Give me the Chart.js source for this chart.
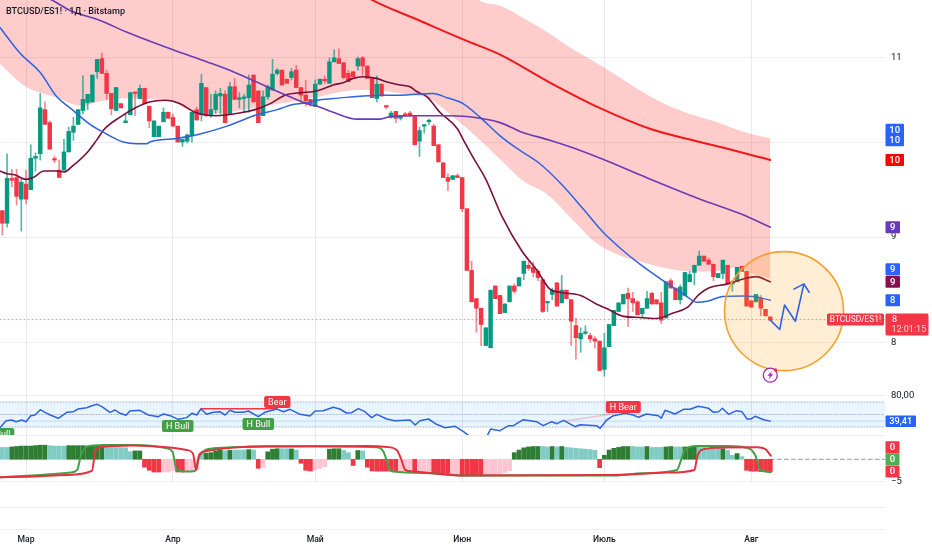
<!DOCTYPE html>
<html><head><meta charset="utf-8">
<style>html,body{margin:0;padding:0;background:#fff}#w{width:932px;height:550px;position:relative}</style>
<script src="https://cdn.jsdelivr.net/npm/chart.js@4/dist/chart.umd.min.js"></script>
</head><body><div id="w"><canvas id="c"></canvas></div>
<script>
const title='BTCUSD/ES1! · 1Д · Bitstamp';
const monthDays=[0,31,61,92,122,153];
const monthNames=['Мар','Апр','Май','Июн','Июль','Авг'];
const priceTicks=[8,9,10,11];
const opens=[9.27,9.14,9.61,9.62,9.39,9.55,9.49,9.83,9.88,10.38,10.23,9.82,9.70,9.70,9.90,10.12,10.21,10.37,10.46,10.47,10.83,10.99,10.81,10.57,10.37,10.45,10.23,10.32,10.58,10.51,10.63,10.42,10.07,10.07,10.24,10.35,10.29,10.19,10.01,10.02,10.08,10.38,10.32,10.64,10.32,10.38,10.54,10.56,10.33,10.65,10.50,10.51,10.52,10.79,10.60,10.31,10.53,10.61,10.81,10.85,10.74,10.76,10.85,10.64,10.55,10.50,10.42,10.68,10.74,10.69,10.95,10.99,10.94,10.81,10.83,10.90,11.00,10.90,10.75,10.51,10.68,10.42,10.29,10.36,10.28,10.33,10.34,10.30,10.02,10.19,10.24,10.19,9.98,9.78,9.62,9.60,9.64,9.62,9.29,8.67,8.40,8.31,7.97,7.95,8.52,8.43,8.27,8.37,8.52,8.52,8.64,8.72,8.70,8.66,8.58,8.36,8.44,8.55,8.36,8.48,8.39,8.15,8.03,8.08,8.06,8.03,8.01,7.76,7.96,8.15,8.28,8.35,8.45,8.40,8.37,8.26,8.31,8.45,8.39,8.36,8.22,8.57,8.50,8.39,8.43,8.56,8.65,8.72,8.81,8.77,8.73,8.60,8.64,8.72,8.54,8.56,8.71,8.66,8.38,8.37,8.40,8.30,8.23];
const highs=[9.27,9.88,9.71,9.71,9.60,9.70,9.98,9.89,10.57,10.47,10.25,9.85,9.81,10.04,10.18,10.29,10.38,10.78,10.56,10.79,10.98,11.06,10.85,10.57,10.64,10.45,10.33,10.58,10.58,10.67,10.63,10.42,10.25,10.19,10.40,10.35,10.33,10.19,10.04,10.10,10.35,10.41,10.80,10.64,10.56,10.60,10.63,10.60,10.70,10.75,10.58,10.56,10.79,10.79,10.60,10.60,10.67,10.98,10.87,10.85,10.74,10.87,10.91,10.64,10.73,10.50,10.73,10.74,10.78,11.00,11.10,11.11,10.94,10.85,10.83,11.01,11.02,10.90,10.76,10.78,10.68,10.43,10.36,10.36,10.31,10.35,10.36,10.30,10.18,10.21,10.27,10.21,9.98,9.78,9.66,9.64,9.66,9.62,9.29,8.76,8.40,8.31,8.13,8.48,8.52,8.43,8.35,8.52,8.54,8.60,8.76,8.76,8.75,8.68,8.58,8.37,8.50,8.55,8.62,8.48,8.39,8.22,8.13,8.15,8.08,8.05,8.01,8.08,8.16,8.29,8.36,8.44,8.50,8.46,8.38,8.31,8.47,8.46,8.39,8.46,8.56,8.59,8.50,8.53,8.65,8.66,8.72,8.86,8.81,8.79,8.73,8.64,8.77,8.72,8.57,8.70,8.71,8.66,8.38,8.44,8.43,8.30,8.23];
const lows=[9.02,9.10,9.52,9.33,9.06,9.34,9.49,9.69,9.81,10.21,9.93,9.78,9.62,9.70,9.90,10.03,10.21,10.33,10.38,10.47,10.75,10.81,10.50,10.32,10.37,10.40,10.23,10.32,10.31,10.51,10.45,10.17,10.07,10.07,10.24,10.28,10.19,10.01,9.96,10.00,10.01,10.26,10.25,10.30,10.29,10.33,10.33,10.23,10.33,10.50,10.40,10.35,10.35,10.47,10.23,10.31,10.50,10.61,10.79,10.67,10.69,10.73,10.64,10.46,10.42,10.42,10.42,10.68,10.69,10.69,10.95,10.93,10.74,10.71,10.77,10.85,10.79,10.75,10.52,10.47,10.54,10.39,10.28,10.23,10.26,10.30,10.30,9.98,9.85,10.11,10.21,9.97,9.79,9.62,9.48,9.60,9.62,9.26,8.67,8.37,8.09,7.97,7.97,7.95,8.40,8.26,8.27,8.37,8.45,8.52,8.58,8.67,8.61,8.57,8.27,8.28,8.39,8.33,8.36,8.40,7.97,7.85,7.91,8.07,8.00,7.95,7.75,7.70,7.96,8.15,8.28,8.35,8.14,8.28,8.25,8.22,8.31,8.35,8.35,8.17,8.22,8.50,8.39,8.35,8.43,8.56,8.53,8.72,8.76,8.73,8.57,8.60,8.59,8.54,8.47,8.56,8.66,8.33,8.32,8.37,8.24,8.24,8.20];
const closes=[9.14,9.61,9.59,9.42,9.57,9.39,9.83,9.85,10.40,10.21,9.93,9.81,9.62,9.90,10.13,10.19,10.38,10.50,10.56,10.79,10.98,10.81,10.57,10.39,10.64,10.40,10.25,10.58,10.57,10.63,10.45,10.25,10.25,10.19,10.35,10.28,10.19,10.01,10.04,10.09,10.35,10.26,10.69,10.32,10.38,10.56,10.57,10.23,10.65,10.50,10.52,10.53,10.67,10.47,10.23,10.53,10.65,10.80,10.85,10.67,10.69,10.83,10.64,10.55,10.48,10.45,10.68,10.74,10.72,10.95,11.00,10.93,10.76,10.71,10.77,10.99,10.90,10.75,10.52,10.68,10.54,10.41,10.34,10.28,10.31,10.31,10.31,9.98,10.14,10.20,10.25,9.97,9.79,9.62,9.58,9.64,9.62,9.29,8.67,8.37,8.31,8.16,8.13,8.48,8.40,8.26,8.35,8.52,8.47,8.60,8.76,8.69,8.65,8.60,8.28,8.37,8.48,8.33,8.48,8.40,8.19,8.04,8.08,8.08,8.03,8.01,7.75,7.95,8.16,8.29,8.36,8.44,8.40,8.36,8.25,8.31,8.40,8.35,8.35,8.20,8.56,8.50,8.39,8.51,8.65,8.63,8.72,8.81,8.76,8.73,8.61,8.64,8.77,8.54,8.56,8.70,8.66,8.33,8.32,8.44,8.31,8.24,8.20];
const maroonDays=[-5.5,-4,-2.4,0,1.5,3.8,6.7,8,9.7,13,15,16.6,20,23,26,29.3,32.5,35.6,40,45,48.3,51.5,54.6,58,60.5,62,64.8,67,69,71,74,76,79,81,82.5,84.6,87.3,91,92.2,94.3,97,100.4,104.6,107.8,110.5,112.6,117,120.5,122.6,126,129.5,133,136.5,139.4,142,144,148,151.5,154,157];
const maroonVals=[9.69,9.66,9.65,9.60,9.62,9.69,9.69,9.68,9.74,9.90,10.04,10.16,10.30,10.40,10.47,10.49,10.45,10.35,10.31,10.34,10.38,10.45,10.55,10.58,10.59,10.61,10.67,10.70,10.75,10.77,10.75,10.71,10.67,10.65,10.59,10.53,10.35,10.16,10.04,9.84,9.60,9.21,8.86,8.67,8.49,8.46,8.43,8.345,8.305,8.235,8.225,8.215,8.265,8.315,8.44,8.50,8.54,8.59,8.61,8.56];
const blueDays=[-5.5,-1.3,3,6.5,9.3,13.5,17,20.5,23.4,25.5,26.1,31.8,36.7,42.4,48.7,53,56.3,59.5,61.4,64.8,69,71.1,75.3,78.9,85.9,88.8,92.2,95.8,100,103.8,108.4,113.3,117.5,121.7,125.3,129.5,134.4,139.4,141.5,143.7,147,151.3,153.4,157];
const blueVals=[11.38,11.06,10.82,10.53,10.40,10.21,10.10,10.01,9.99,9.99,10.01,10.05,10.10,10.19,10.32,10.38,10.44,10.46,10.49,10.51,10.53,10.54,10.55,10.55,10.57,10.52,10.45,10.29,10.08,9.93,9.77,9.53,9.29,9.05,8.89,8.73,8.57,8.42,8.365,8.375,8.42,8.425,8.42,8.385];
const purpleDays=[-6,5.3,9.3,15.6,21.3,31,38.2,43.7,50.8,55.7,59.8,61.4,64.8,69.8,74.7,76.8,81.7,88.8,93,100,104.2,110.5,116.2,122.6,130.4,142.2,150.6,157];
const purpleVals=[12.0,11.74,11.60,11.47,11.32,11.10,10.95,10.83,10.65,10.53,10.44,10.42,10.35,10.27,10.27,10.30,10.31,10.31,10.30,10.23,10.13,10.03,9.93,9.80,9.63,9.39,9.24,9.10];
const redDays=[68,72.9,83,92.6,100,110.5,121,131.6,142.2,150.6,157];
const redVals=[11.94,11.74,11.47,11.22,11.04,10.70,10.40,10.16,10.01,9.90,9.81];
const bandDays=[-6,0,6,12,15,20,30,35,40,50,60,70,73,80,85,90,95,100,105,110,115,120,125,130,135,140,145,150,153,157];
const bandLow=[10.95,10.65,10.53,10.42,10.47,10.51,10.49,10.36,10.34,10.42,10.51,10.61,10.61,10.56,10.51,10.30,10.07,9.82,9.58,9.44,9.19,8.95,8.82,8.75,8.69,8.66,8.66,8.70,8.64,8.59];
const bandHigh=[12.3,12.3,12.3,12.3,12.3,12.3,12.3,12.3,12.3,12.3,12.3,12.3,12.3,12.3,12.3,12.3,11.76,11.66,11.50,11.32,11.12,10.95,10.77,10.59,10.44,10.33,10.25,10.15,10.10,10.05];
const sketchDays=[157,159,160,162.3,164.1,162,164.1,165.2];
const sketchVals=[8.20,8.115,8.34,8.19,8.54,8.49,8.54,8.46];
const circleDay=[159.9], circlePrice=[8.283];
const lastPrice=8.205;
const priceTags=[['10',10.15,'#2962ff'],['10',10.03,'#2962ff'],['10',9.81,'#ff0000'],['9',9.10,'#673ab7'],['9',8.68,'#2962ff'],['9',8.56,'#880e4f'],['8',8.385,'#2962ff']];
const rsiDays=[-5.5,-4.2,-3,-2.1,-0.9,0,1,1.9,3,4,5.1,6.8,8.6,10,11,12.8,13.9,15,16,17.7,18.8,19.8,21.1,21.9,24,25.8,27.9,29,30.4,32.1,33.9,35,36,36.9,38.1,39.5,40.9,42,43,44.1,45.9,46.9,49,50.4,52.9,54.3,55.7,57.8,59.9,61,62.7,64.8,66.2,67.6,68.7,70.1,71.5,72.9,74,76.1,77.8,81,82.1,83.1,84.9,86.6,88.4,90.5,92.3,93.7,95.1,96.1,97.2,98,100,101.8,102.8,104.9,107.7,109.1,110.9,112,113.4,115.8,116.9,120.4,121.1,122.5,123.9,126.4,128.1,129.2,130.9,133.4,134,134.8,136.9,138.7,140.1,141.8,144,145,146.1,146.9,148.2,149.9,151,152.1,152.9,153.8,155.6,157];
const rsiVals=[29,40,41.2,38.5,41.2,38.5,48.1,49.2,57.7,53.5,49.2,43.9,53.5,54.5,58.8,60.9,64.1,66.3,62.5,53.5,57.2,51.9,48.7,55.6,56.7,49.2,46.5,50.8,48.1,42.3,45,51.9,49.2,58.8,50.3,53.5,54.5,49.2,56.7,53.5,53.5,55.6,46.5,53.5,58.8,54.5,58.3,50.3,47.6,55.6,56.1,61.5,58.8,52.4,52.9,59.3,54.5,45,50.3,42.8,40.1,41.2,33.2,40.1,42.8,34.3,28.9,31.1,22.5,14.5,6.5,5.5,14.5,26.8,24.1,32.1,32.1,41.7,38.5,32.1,38.5,35.3,40.7,30.5,33.7,32.1,27.9,41.2,48.1,51.9,49.2,45.5,50.8,48.1,43.9,56.7,50.8,58.3,58.3,63.1,59.9,53.5,54.5,59.9,50.3,56.1,54.5,42.8,42.8,47.1,41.7,39.41];
const rsiLast=39.41, rsiTop=70, rsiMid=50, rsiBottom=30;
const bearLineDays=[36.9,52.9], bearLineVals=[59.3,59.3];
const hBearLineDays=[114,123], hBearLineVals=[40,50];
const signals=[['H Bull',-5.8,18.8,'#43a047'],['H Bull',32,31.6,'#43a047'],['H Bull',49,34.8,'#43a047'],['Bear',53,70,'#f23645'],['H Bear',126,62,'#f23645']];
const histVals=[2.7,2.7,2.8,2.9,3.0,3.0,3.0,3.1,3.2,3.2,3.1,3.0,3.0,3.0,3.1,3.1,3.1,3.1,3.0,3.0,3.0,2.9,2.65,2.65,2.65,2.65,2.6,1.75,1.9,1.9,-1.8,-2.5,-2.9,-2.9,-2.9,-2.9,-2.6,-2.9,-2.9,-2.6,-2.6,-2.4,1.4,1.4,1.5,1.9,2.05,1.9,2.05,2.1,2.1,2.1,2.2,2.1,-2.05,-1.8,1.7,2.3,2.4,2.4,2.4,2.35,2.1,-0.9,-2.5,-2.65,-2.4,-2.1,-1.7,2.3,2.4,2.4,2.0,1.5,-1.4,2.0,1.9,-1.8,-2.65,-2.7,-2.7,-2.7,-2.7,-2.7,-2.7,-2.7,-2.7,-2.7,-3.0,-3.0,-3.0,-3.2,-3.2,-3.2,-3.2,-3.3,-3.3,-3.5,-3.5,-3.5,-3.5,-3.5,-3.5,-3.5,-3.3,-3.2,-3.0,-2.6,1.5,2.1,2.6,2.8,2.9,2.9,2.9,2.8,2.9,2.8,2.9,2.7,2.6,2.5,2.4,2.3,2.2,2.05,-1.9,0.9,2.1,2.5,2.7,2.9,2.9,2.9,2.8,2.8,2.9,2.7,2.7,2.7,2.8,2.9,2.8,2.8,2.8,2.8,2.8,2.7,2.7,2.5,2.5,2.5,2.4,2.0,0.9,1.3,0.6,-2.5,-2.7,-2.7,-2.8,-2.8,-2.8];
const histKinds='TTDDDDDDDDTTTTDDDDDDDDTTTTTTDDRRRRPPPRRPPPTDDDDTDTTTDTRPDDDTTDTRRRPPPDDDTTRDTRRRRRRRPPPRPPPRRRRPPRRRRRPPPPPPDDDDDDTTDTDTTTTTTTRDDDDDDTTTDTTTDDTTDDDTTTTTDTTDTRRRRRR';
const waveRedDays=[-5.5,1.5,8.6,13.9,14.6,15.6,22.6,29.7,33.9,35.2,35.9,36.5,38.1,43.7,50.8,59.9,71.9,76.1,78.2,79.2,80,81.7,93,123.2,128.1,135.2,141,141.6,142.5,145.7,154.2,155.9,157.1];
const waveRedVals=[-4.09,-3.94,-3.56,-2.65,1.74,2.73,3.11,2.73,2.12,1.36,-2.42,0.98,1.89,2.65,2.95,2.95,3.03,2.8,2.12,-0.15,-2.42,-2.8,-3.71,-3.56,-3.41,-3.03,-2.42,0.61,2.12,2.65,2.73,2.35,0.83];
const waveGreenDays=[-5.5,3,9.3,10.8,11.6,12.8,16.3,22.6,29.7,30.9,31.8,33.9,35.6,36.7,39.5,50.8,59.9,74,75.4,76.8,77.5,85.9,93,123.2,130.2,137.3,138.2,139,141.5,147.8,152.4,153.8,154.9,157.1];
const waveGreenVals=[-4.09,-3.56,-3.03,-2.42,0.98,2.88,3.26,3.26,2.5,1.74,-2.42,-2.8,-2.65,0.98,2.5,2.88,2.95,2.73,1.74,-2.42,-2.8,-3.18,-3.71,-3.71,-3.18,-2.42,-0.15,2.12,3.03,3.03,2.5,0.98,-2.42,-2.95];
const waveTags=[0,0,0];

const pts=(xs,ys)=>xs.map((x,i)=>({x,y:ys[i]}));
const candleDays=opens.map((_,i)=>i-5);
const UP='#089981',DOWN='#f23645';
const candleColor=i=>closes[i]>=opens[i]?UP:DOWN;
const wickColor=i=>closes[i]>=opens[i]?'rgba(8,153,129,.7)':'rgba(242,54,69,.6)';
const histColors={D:'#2e7d32',T:'#80cbc4',R:'#f23645',P:'#ffc4d2'};
const XMIN=-5.49,XMAX=181.2;
const line=(xs,ys,color,width,extra)=>Object.assign({type:'line',data:pts(xs,ys),borderColor:color,borderWidth:width,pointRadius:0,cubicInterpolationMode:'monotone',yAxisID:'yP',backgroundColor:'transparent',fill:false},extra||{});
const flat=(v,color,width,dash,yAxisID,extra)=>Object.assign({type:'line',data:[{x:XMIN,y:v},{x:XMAX,y:v}],borderColor:color,borderWidth:width,borderDash:dash,pointRadius:0,yAxisID,backgroundColor:'transparent',fill:false},extra||{});

const datasets=[
 {type:'line',label:'bandHigh',data:pts(bandDays,bandHigh),borderWidth:0,pointRadius:0,yAxisID:'yP',fill:'+1',backgroundColor:'rgba(255,0,0,.2)',order:20,cubicInterpolationMode:'monotone'},
 {type:'line',label:'bandLow',data:pts(bandDays,bandLow),borderWidth:0,pointRadius:0,yAxisID:'yP',fill:false,order:20,cubicInterpolationMode:'monotone'},
 flat(lastPrice,'rgba(242,54,69,.55)',1,[1,3],'yP',{order:15}),
 {type:'bar',label:'wicks',grouped:false,yAxisID:'yP',barThickness:1,order:12,minBarLength:1,
  data:candleDays.map((d,i)=>({x:d,y:[lows[i],highs[i]]})),backgroundColor:candleDays.map((_,i)=>wickColor(i))},
 {type:'bar',label:'bodies',grouped:false,yAxisID:'yP',barThickness:3.8,order:11,minBarLength:1.5,
  data:candleDays.map((d,i)=>({x:d,y:[opens[i],closes[i]]})),backgroundColor:candleDays.map((_,i)=>candleColor(i))},
 line(maroonDays,maroonVals,'#7b0f3c',1.6,{order:9}),
 line(blueDays,blueVals,'#2f62e0',1.5,{order:8}),
 line(purpleDays,purpleVals,'#6a3bb5',1.6,{order:7}),
 line(redDays,redVals,'#f01818',2,{order:6}),
 {type:'bubble',label:'circle',data:[{x:circleDay[0],y:circlePrice[0],r:59.5}],yAxisID:'yP',backgroundColor:'rgba(255,152,0,.17)',borderColor:'#f5a030',borderWidth:1.6,order:4,clip:false},
 {type:'line',label:'sketch',data:pts(sketchDays,sketchVals),borderColor:'#2f62e0',borderWidth:1.6,pointRadius:0,yAxisID:'yP',tension:0,order:3,fill:false,clip:false},
 flat(rsiTop,'#a9b4c6',1,[1,2],'yR',{order:30,fill:{target:{value:rsiBottom}},backgroundColor:'rgba(33,150,243,.1)'}),
 flat(rsiMid,'#a9b4c6',1,[1,2],'yR',{order:29}),
 flat(rsiBottom,'#a9b4c6',1,[1,2],'yR',{order:29}),
 flat(rsiLast,'rgba(41,98,255,.18)',1,[],'yR',{order:28}),
 {type:'line',label:'bearLine',data:pts(bearLineDays,bearLineVals),borderColor:'#f23645',borderWidth:1.5,pointRadius:0,yAxisID:'yR',order:22,fill:false},
 {type:'line',label:'hBearLine',data:pts(hBearLineDays,hBearLineVals),borderColor:'rgba(242,54,69,.25)',borderWidth:1.5,pointRadius:0,yAxisID:'yR',order:22,fill:false},
 line(rsiDays,rsiVals,'#2f62e0',1.5,{yAxisID:'yR',cubicInterpolationMode:'default',tension:0,order:21}),
 {type:'line',label:'zero',data:[{x:157,y:0},{x:XMAX,y:0}],borderColor:'#9598a1',borderWidth:1,borderDash:[4,3],pointRadius:0,yAxisID:'yM',order:19,fill:false},
 {type:'bar',label:'hist',grouped:false,yAxisID:'yM',barThickness:4.1,order:18,
  data:candleDays.map((d,i)=>({x:d,y:histVals[i]})),backgroundColor:candleDays.map((_,i)=>histColors[histKinds[i]])},
 line(waveGreenDays,waveGreenVals,'#43a047',2,{yAxisID:'yM',order:14}),
 line(waveRedDays,waveRedVals,'#e53040',2,{yAxisID:'yM',order:13}),
];

function tag(ctx,x,y,w,h,color,r){ctx.fillStyle=color;ctx.beginPath();ctx.roundRect(x,y,w,h,r||1);ctx.fill();}
const AXF='Roboto, sans-serif';
const zeroPad=s=>{s.paddingLeft=0;s.paddingRight=0;s.paddingTop=0;s.paddingBottom=0;};
const overlay={id:'overlay',afterDatasetsDraw(chart){
  const c=chart.ctx,P=chart.scales.yP,R=chart.scales.yR,M=chart.scales.yM,X=chart.scales.x;
  c.save();
  c.strokeStyle='#eceef2';c.lineWidth=1;
  [507,529].forEach(y=>{c.beginPath();c.moveTo(0,y+.5);c.lineTo(885,y+.5);c.stroke();});
  c.fillStyle='#131722';c.font='500 9.1px '+AXF;c.textBaseline='middle';c.textAlign='left';
  c.fillText(title,6,11.5);
  const ix=X.getPixelForValue(157),iy=P.getPixelForValue(7.71);
  c.strokeStyle='#9c27b0';c.lineWidth=1.3;c.fillStyle='#fff';c.beginPath();c.arc(ix,iy,7,0,7);c.fill();c.stroke();
  c.fillStyle='#9c27b0';c.beginPath();c.moveTo(ix+2,iy-4.5);c.lineTo(ix-3,iy+.5);c.lineTo(ix-.3,iy+.5);c.lineTo(ix-2,iy+4.5);c.lineTo(ix+3,iy-.8);c.lineTo(ix+.3,iy-.8);c.closePath();c.fill();
  c.fillStyle='#f23645';c.beginPath();c.arc(ix+5.2,iy-5.2,1.8,0,7);c.fill();
  c.save();c.beginPath();c.rect(0,R.top,885,R.bottom-R.top);c.clip();
  c.font='9px '+AXF;c.textAlign='center';
  signals.forEach(([t,d,v,col])=>{const x=X.getPixelForValue(d),y=R.getPixelForValue(v);const w=c.measureText(t).width+8;
    tag(c,x-w/2,y-6,w,12,col,2);c.fillStyle='#fff';c.fillText(t,x,y+.5);});
  c.restore();
  const L=885.5;c.font='500 9.5px '+AXF;c.textAlign='center';
  priceTags.forEach(([t,v,col],i)=>{const y=P.getPixelForValue(v);const w=i<3?18.5:14.5;
    tag(c,L,y-6,w,12,col,1);c.fillStyle='#fff';c.fillText(t,L+w/2,y+.5);});
  const py=P.getPixelForValue(lastPrice);
  tag(c,827,py-6,57,12,'#f23645',1.5);c.fillStyle='#fff';c.textAlign='center';c.font='8.4px '+AXF;c.fillText('BTCUSD/ES1!',855.5,py+.5);
  tag(c,L,py-6,43,22,'#f23645',1.5);c.textAlign='left';c.fillStyle='#fff';c.font='9px '+AXF;c.fillText('8',892,py+.5);
  c.fillStyle='#ffd5d9';c.fillText('12:01:15',891.5,py+10.5);
  const ry=R.getPixelForValue(rsiLast);
  tag(c,L,ry-5.5,30.5,11.5,'#2962ff',1);c.fillStyle='#fff';c.textAlign='center';c.font='500 9.2px '+AXF;c.fillText('39,41',L+15.2,ry+.5);
  const my=M.getPixelForValue(0);
  c.font='500 9.5px '+AXF;
  [['#f23645',-12],['#4caf50',0],['#f23645',12.2]].forEach(([col,o],i)=>{tag(c,L,my+o-6,14,12,col,0);c.fillStyle='#fff';c.fillText(String(waveTags[i]),L+7,my+o+.5);});
  c.restore();
}};

const yBase=(stackWeight,min,max,ticks,cb)=>({position:'right',stack:'panes',stackWeight,min,max,offset:false,
  border:{display:false},grid:{color:'#eceef2',lineWidth:1,drawTicks:false},
  afterBuildTicks(s){s.ticks=ticks.map(v=>({value:v}));},
  afterFit(s){s.width=47;zeroPad(s);},
  ticks:{callback:cb,padding:6,autoSkip:false,color:'#131722',font:{family:'Roboto',size:9.5},align:'center',crossAlign:'near'}});

new Chart(document.getElementById('c'),{
  type:'line',
  data:{datasets},
  plugins:[overlay],
  options:{
    responsive:true,maintainAspectRatio:false,animation:false,
    layout:{padding:0,autoPadding:false},
    plugins:{legend:{display:false},title:{display:false},tooltip:{enabled:false}},
    elements:{line:{borderCapStyle:'round',borderJoinStyle:'round'}},
    scales:{
      x:{type:'linear',position:'bottom',min:XMIN,max:XMAX,offset:false,
        border:{display:false},grid:{color:'#e8eaee',offset:false,drawTicks:false},
        afterBuildTicks(s){s.ticks=monthDays.map(v=>({value:v}));},
        afterFit(s){s.height=67;zeroPad(s);},
        ticks:{callback:(v)=>monthNames[monthDays.indexOf(v)],padding:52,autoSkip:false,maxRotation:0,color:'#131722',font:{family:'Roboto',size:8.6,weight:'500'}}},
      yP:Object.assign(yBase(388,7.609,11.736,priceTicks,v=>v===10?'':String(v)),{type:'logarithmic'}),
      yR:Object.assign(yBase(47,17.2,92.4,[80],v=>'80,00'),{type:'linear'}),
      yM:Object.assign(yBase(48,-5.39,5.52,[5.5,-5],v=>v===-5?'−5':''),{type:'linear'}),
    }
  }
});
</script></body></html>
